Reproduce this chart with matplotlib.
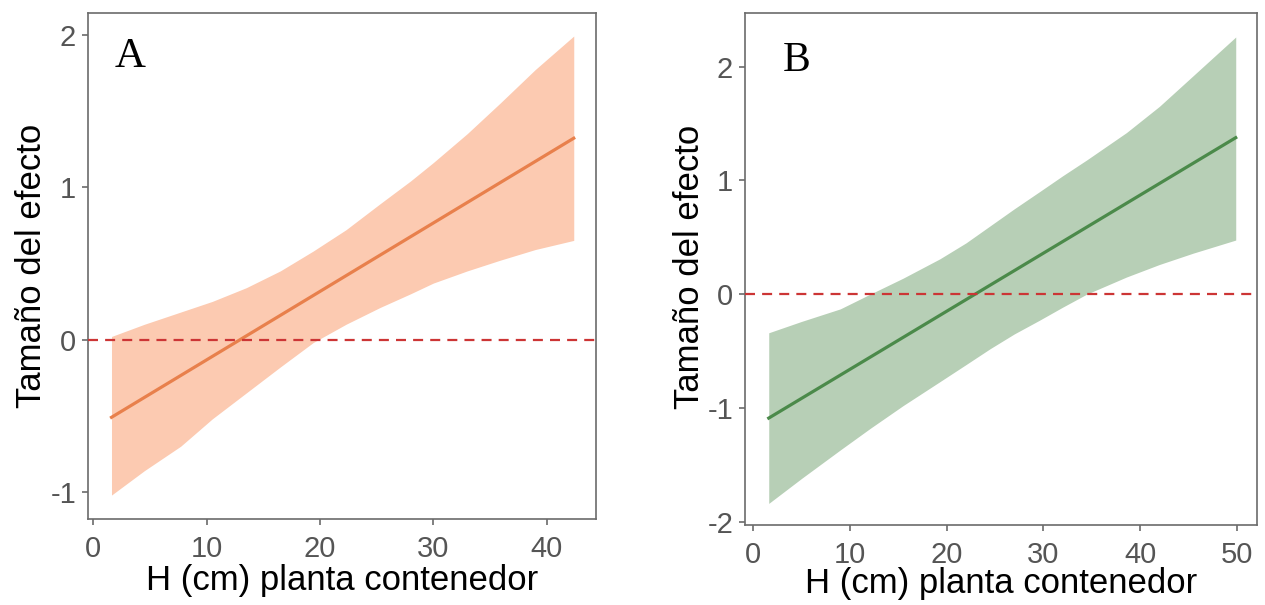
import matplotlib.pyplot as plt

plt.rcParams["font.family"] = ["Liberation Sans", "DejaVu Sans"]
plt.rcParams["axes.unicode_minus"] = False

# =========================
# data
# =========================
# panel A
A_X = [1.6, 4.5, 7.7, 10.5, 13.5, 16.5, 19.4, 22.3, 25.3, 28.0, 30.0, 33.0, 35.9, 39.0, 42.4]
A_UPPER = [0.02, 0.10, 0.18, 0.25, 0.34, 0.45, 0.58, 0.72, 0.89, 1.04, 1.16, 1.35, 1.55, 1.77, 1.99]
A_LOWER = [-1.02, -0.86, -0.70, -0.52, -0.35, -0.18, -0.02, 0.10, 0.21, 0.30, 0.37, 0.45, 0.52, 0.59, 0.65]
A_FIT_X = [1.6, 42.4]
A_FIT_Y = [-0.51, 1.32]
A_XTICKS = [0, 10, 20, 30, 40]
A_YTICKS = [-1, 0, 1, 2]

# panel B
B_X = [1.6, 5.0, 9.0, 12.1, 15.5, 19.3, 22.0, 24.5, 27.0, 29.6, 32.0, 34.5, 38.6, 42.0, 45.5, 49.9]
B_UPPER = [-0.34, -0.24, -0.13, 0.0, 0.14, 0.31, 0.45, 0.60, 0.75, 0.90, 1.04, 1.18, 1.42, 1.65, 1.92, 2.26]
B_LOWER = [-1.84, -1.62, -1.37, -1.18, -0.98, -0.77, -0.62, -0.48, -0.35, -0.23, -0.115, 0.0, 0.15, 0.26, 0.36, 0.475]
B_FIT_X = [1.6, 49.9]
B_FIT_Y = [-1.09, 1.375]
B_XTICKS = [0, 10, 20, 30, 40, 50]
B_YTICKS = [-2, -1, 0, 1, 2]

REF_Y = 0
XLABEL = "H (cm) planta contenedor"
YLABEL = "Tamaño del efecto"

# =========================
# helpers
# =========================
def style_axes(ax):
    for s in ax.spines.values():
        s.set_color("#6b6b6b")
        s.set_linewidth(1.2)
    ax.tick_params(axis="both", colors="#6b6b6b", length=4.5, width=1.2,
                   labelsize=21, labelcolor="#555555")
    ax.tick_params(axis="x", pad=7)
    ax.tick_params(axis="y", pad=4)


def draw_panel(ax, x, up, lo, fx, fy, fill_c, line_c, xticks, yticks):
    ax.fill_between(x, lo, up, color=fill_c, linewidth=0, zorder=1)
    ax.plot(fx, fy, color=line_c, linewidth=2.3, zorder=2)
    ax.axhline(REF_Y, color="#cc3535", linewidth=1.6, dashes=(4.5, 3.2), zorder=3)
    ax.set_xticks(xticks)
    ax.set_yticks(yticks)
    ax.set_xlabel(XLABEL, fontsize=25, color="black")
    ax.set_ylabel(YLABEL, fontsize=25, color="black")
    style_axes(ax)
    return ax


fig = plt.figure(figsize=(12.65, 6.05), dpi=100)

# panel A
axA = fig.add_axes([0.0696, 0.1421, 0.4016, 0.8364])
draw_panel(axA, A_X, A_UPPER, A_LOWER, A_FIT_X, A_FIT_Y,
           "#fccab1", "#e8804c", A_XTICKS, A_YTICKS)
axA.set_xlim(-0.47, 44.37)
axA.set_ylim(-1.177, 2.141)
axA.xaxis.set_label_coords(0.5, -0.088)
axA.yaxis.set_label_coords(-0.078, 0.5)
axA.text(0.053, 0.893, "A", transform=axA.transAxes, fontsize=31,
         family="Liberation Serif", ha="left", va="baseline")

# panel B
axB = fig.add_axes([0.5889, 0.1322, 0.4047, 0.8463])
draw_panel(axB, B_X, B_UPPER, B_LOWER, B_FIT_X, B_FIT_Y,
           "#b7cfb6", "#4b8a4a", B_XTICKS, B_YTICKS)
axB.set_xlim(-0.86, 52.09)
axB.set_ylim(-2.03, 2.471)
axB.xaxis.set_label_coords(0.5, -0.082)
axB.yaxis.set_label_coords(-0.076, 0.505)
axB.text(0.0736, 0.887, "B", transform=axB.transAxes, fontsize=30,
         family="Liberation Serif", ha="left", va="baseline")

fig.savefig("out.png", dpi=100)
